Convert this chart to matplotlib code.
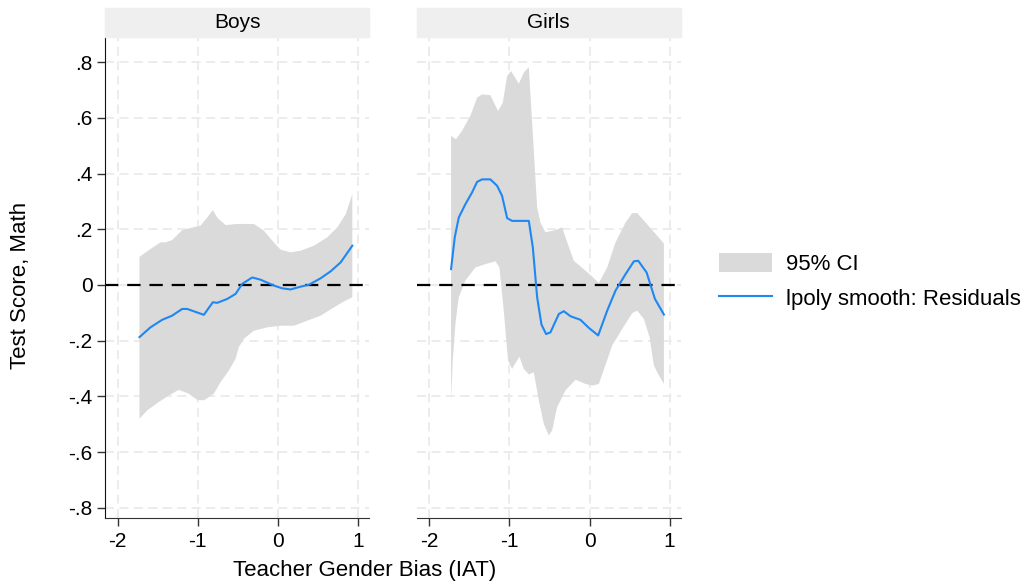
import numpy as np
import matplotlib
matplotlib.use('Agg')
import matplotlib.pyplot as plt
from matplotlib.patches import Patch, Rectangle
from matplotlib.lines import Line2D

plt.rcParams['font.family'] = ['Liberation Sans', 'DejaVu Sans']

panels = ['Boys', 'Girls']

# Boys: lpoly smooth + 95% CI bounds
boys_x = [-1.729, -1.592, -1.446, -1.321, -1.196, -1.133, -0.925, -0.813, -0.758, -0.633,
          -0.529, -0.446, -0.321, -0.217, -0.05, 0.054, 0.158, 0.283, 0.388, 0.533,
          0.658, 0.783, 0.929]
boys_y = [-0.187, -0.152, -0.125, -0.110, -0.086, -0.086, -0.107, -0.062, -0.064, -0.050,
          -0.032, 0.004, 0.027, 0.019, -0.002, -0.012, -0.016, -0.006, 0.001, 0.024,
          0.049, 0.081, 0.141]
boys_hi_x = [-1.729, -1.592, -1.467, -1.404, -1.321, -1.196, -1.113, -0.967, -0.883, -0.813,
             -0.758, -0.654, -0.508, -0.3, -0.175, -0.071, 0.033, 0.158, 0.283, 0.45,
             0.617, 0.742, 0.846, 0.929]
boys_hi = [0.101, 0.129, 0.153, 0.153, 0.161, 0.197, 0.203, 0.213, 0.242, 0.269,
           0.242, 0.215, 0.219, 0.219, 0.195, 0.159, 0.127, 0.117, 0.123, 0.141,
           0.171, 0.207, 0.254, 0.326]
boys_lo_x = [-1.729, -1.633, -1.508, -1.383, -1.238, -1.113, -1.008, -0.925, -0.8, -0.717,
             -0.613, -0.529, -0.488, -0.425, -0.3, -0.133, 0.033, 0.2, 0.367, 0.533,
             0.7, 0.825, 0.929]
boys_lo = [-0.480, -0.450, -0.424, -0.400, -0.376, -0.390, -0.412, -0.414, -0.390, -0.349,
           -0.307, -0.265, -0.223, -0.193, -0.164, -0.152, -0.146, -0.146, -0.128, -0.110,
           -0.080, -0.059, -0.044]

# Girls
girls_x = [-1.729, -1.683, -1.633, -1.55, -1.467, -1.404, -1.342, -1.238, -1.154, -1.092,
           -1.029, -0.967, -0.758, -0.708, -0.654, -0.6, -0.542, -0.488, -0.383, -0.321,
           -0.238, -0.113, -0.008, 0.108, 0.221, 0.325, 0.45, 0.554, 0.608, 0.713,
           0.817, 0.929]
girls_y = [0.057, 0.171, 0.242, 0.290, 0.332, 0.370, 0.379, 0.379, 0.356, 0.320,
           0.240, 0.230, 0.230, 0.135, -0.044, -0.142, -0.176, -0.170, -0.104, -0.094,
           -0.112, -0.125, -0.154, -0.181, -0.092, -0.020, 0.039, 0.085, 0.087, 0.045,
           -0.050, -0.106]
girls_hi_x = [-1.729, -1.667, -1.592, -1.488, -1.404, -1.342, -1.238, -1.142, -1.083, -1.029,
              -0.979, -0.883, -0.821, -0.758, -0.708, -0.654, -0.613, -0.55, -0.425, -0.342,
              -0.3, -0.196, -0.05, 0.033, 0.117, 0.221, 0.325, 0.45, 0.533, 0.596,
              0.7, 0.825, 0.929]
girls_hi = [0.535, 0.523, 0.553, 0.607, 0.672, 0.684, 0.681, 0.624, 0.654, 0.750,
            0.768, 0.722, 0.762, 0.782, 0.541, 0.278, 0.224, 0.189, 0.197, 0.207,
            0.171, 0.087, 0.051, 0.030, 0.007, 0.063, 0.153, 0.224, 0.258, 0.258,
            0.224, 0.183, 0.149]
girls_lo_x = [-1.729, -1.708, -1.675, -1.633, -1.55, -1.425, -1.3, -1.175, -1.125, -1.071,
              -1.017, -0.967, -0.875, -0.821, -0.758, -0.696, -0.633, -0.571, -0.508, -0.467,
              -0.404, -0.3, -0.175, -0.05, 0.033, 0.117, 0.179, 0.283, 0.408, 0.533,
              0.596, 0.679, 0.75, 0.804, 0.867, 0.929]
girls_lo = [-0.414, -0.271, -0.140, -0.044, 0.016, 0.063, 0.075, 0.085, 0.063, -0.092,
            -0.271, -0.301, -0.257, -0.301, -0.321, -0.313, -0.414, -0.498, -0.540, -0.522,
            -0.438, -0.378, -0.340, -0.355, -0.361, -0.355, -0.304, -0.217, -0.158, -0.101,
            -0.092, -0.122, -0.187, -0.289, -0.325, -0.355]

x_ticks = [-2, -1, 0, 1]
y_ticks = [-0.8, -0.6, -0.4, -0.2, 0, 0.2, 0.4, 0.6, 0.8]
y_labels = ['-.8', '-.6', '-.4', '-.2', '0', '.2', '.4', '.6', '.8']

series = [
    (boys_x, boys_y, boys_hi_x, boys_hi, boys_lo_x, boys_lo),
    (girls_x, girls_y, girls_hi_x, girls_hi, girls_lo_x, girls_lo),
]

CI_COLOR = '#dadada'
LINE_COLOR = '#1f87f2'
GRID_COLOR = '#ebebeb'
FS = 15

fig = plt.figure(figsize=(10.27, 5.82), dpi=100)
lefts = [0.1022, 0.4056]
bottom, height, width = 0.110, 0.8265, 0.2573

for i, (name, (lx, ly, hx, hy, bx, by)) in enumerate(zip(panels, series)):
    ax = fig.add_axes([lefts[i], bottom, width, height])
    ax.set_xlim(-2.16, 1.14)
    ax.set_ylim(-0.836, 0.89)

    for xt in x_ticks:
        ax.axvline(xt, color=GRID_COLOR, lw=1.3, ls=(0, (5, 3)), zorder=0)
    for yt in y_ticks:
        ax.axhline(yt, color=GRID_COLOR, lw=1.3, ls=(0, (5, 3)), zorder=0)

    ax.fill(np.r_[hx, bx[::-1]], np.r_[hy, by[::-1]], color=CI_COLOR, lw=0, zorder=1)
    ax.axhline(0, color='black', lw=1.6, ls=(0, (6, 4)), zorder=2)
    ax.plot(lx, ly, color=LINE_COLOR, lw=1.5, zorder=3)

    ax.set_xticks(x_ticks)
    ax.set_xticklabels([str(t) for t in x_ticks], fontsize=FS)
    ax.set_yticks(y_ticks)
    for s in ['top', 'right']:
        ax.spines[s].set_visible(False)
    ax.spines['bottom'].set_color('#333333')
    ax.tick_params(axis='x', length=6, width=1, color='#333333', pad=4)
    if i == 0:
        ax.set_yticklabels(y_labels, fontsize=FS)
        ax.spines['left'].set_color('#111111')
        ax.tick_params(axis='y', length=6, width=1, color='#333333', pad=3)
    else:
        ax.spines['left'].set_visible(False)
        ax.tick_params(axis='y', length=0, labelleft=False)

    # header strip
    fig.patches.append(Rectangle((lefts[i], 0.9364), width, 0.0499,
                                 transform=fig.transFigure, color='#efefef', zorder=0))
    fig.text(lefts[i] + width / 2, 0.9614, name, ha='center', va='center', fontsize=FS)

fig.text(0.3555, 0.002, 'Teacher Gender Bias (IAT)', ha='center', va='bottom', fontsize=16)
fig.text(0.0204, 0.51, 'Test Score, Math', ha='center', va='center', rotation=90, fontsize=16)

handles = [Patch(facecolor=CI_COLOR, edgecolor='none'),
           Line2D([], [], color=LINE_COLOR, lw=1.5)]
fig.legend(handles, ['95% CI', 'lpoly smooth: Residuals'], loc='upper left',
           bbox_to_anchor=(0.700, 0.566), frameon=False, fontsize=16,
           borderpad=0, borderaxespad=0,
           handlelength=2.4, handleheight=1.0, handletextpad=0.6, labelspacing=0.55)

fig.savefig('out.png', dpi=100)
